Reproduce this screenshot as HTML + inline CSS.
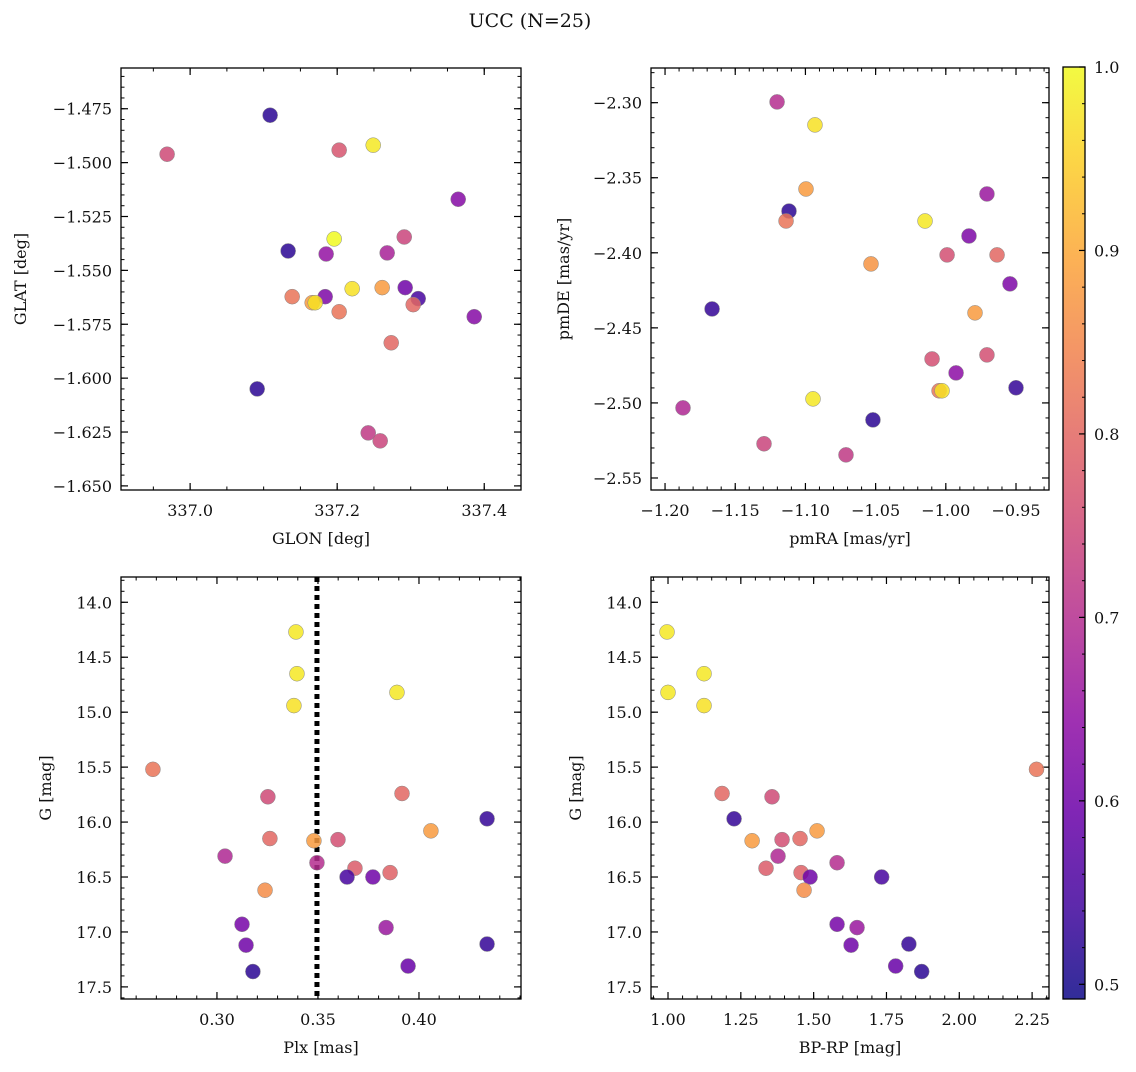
<!DOCTYPE html>
<html><head><meta charset="utf-8"><style>
body{margin:0;background:#fff}
svg text{font-family:"DejaVu Serif","Liberation Serif",serif;fill:#111}
</style></head><body>
<svg id="fig" width="1136" height="1067" viewBox="0 0 1136 1067" xmlns="http://www.w3.org/2000/svg">
<text x="530" y="27" font-size="19" text-anchor="middle">UCC (N=25)</text>
</svg>
<script>
// Panel 1: GLON / GLAT
const glon=[336.9687,337.1088,337.2027,337.2490,337.3646,337.1333,337.1959,337.1850,337.2912,337.2680,337.1388,337.1837,337.2204,337.2612,337.2925,337.3102,337.1660,337.1701,337.2027,337.3034,337.3864,337.2735,337.0912,337.2422,337.2585];
const glat=[-1.4961,-1.4780,-1.4942,-1.4919,-1.5170,-1.5410,-1.5354,-1.5424,-1.5345,-1.5419,-1.5622,-1.5622,-1.5585,-1.5580,-1.5580,-1.5631,-1.5650,-1.5650,-1.5692,-1.5659,-1.5715,-1.5836,-1.6050,-1.6254,-1.6291];
const col1=[0.75,0.52,0.77,0.98,0.63,0.52,1.0,0.65,0.74,0.68,0.82,0.62,0.97,0.88,0.60,0.55,0.88,0.97,0.82,0.80,0.63,0.80,0.52,0.72,0.74];
// Panel 2: pmRA / pmDE
const pmra=[-1.1202,-1.0932,-1.0996,-1.1117,-1.1138,-1.0148,-0.9707,-0.9835,-0.9991,-0.9635,-1.0533,-0.9543,-1.1665,-0.9792,-1.0098,-0.9707,-0.9927,-0.9500,-1.0048,-1.0027,-1.0946,-1.0519,-1.1872,-1.1295,-1.0711];
const pmde=[-2.2995,-2.3148,-2.3575,-2.3722,-2.3788,-2.3788,-2.3608,-2.3888,-2.4014,-2.4014,-2.4074,-2.4207,-2.4374,-2.4400,-2.4707,-2.4680,-2.4800,-2.4899,-2.4919,-2.4919,-2.4973,-2.5113,-2.5033,-2.5272,-2.5346];
const col2=[0.70,0.97,0.88,0.52,0.82,0.98,0.66,0.62,0.76,0.80,0.87,0.62,0.53,0.88,0.76,0.76,0.64,0.53,0.82,0.97,0.98,0.52,0.69,0.74,0.72];
// Panels 3 & 4: Plx, BP-RP, G
const plx=[0.3391,0.3396,0.3891,0.3381,0.2683,0.3916,0.3252,0.4337,0.4059,0.3262,0.3599,0.3480,0.3040,0.3495,0.3683,0.3857,0.3644,0.3772,0.3238,0.3124,0.3837,0.3144,0.4337,0.3946,0.3178];
const bprp=[0.9966,1.1237,1.0000,1.1237,2.2651,1.1856,1.3571,1.2268,1.5117,1.4533,1.3915,1.2887,1.3777,1.5804,1.3365,1.4568,1.7335,1.4877,1.4671,1.5804,1.6490,1.6285,1.8269,1.7816,1.8709];
const gmag=[14.27,14.65,14.82,14.94,15.52,15.74,15.77,15.97,16.08,16.15,16.16,16.17,16.31,16.37,16.42,16.46,16.50,16.50,16.62,16.93,16.96,17.12,17.11,17.31,17.36];
const col3=[0.98,0.98,0.98,0.97,0.82,0.80,0.75,0.53,0.88,0.80,0.76,0.88,0.69,0.70,0.78,0.79,0.55,0.60,0.86,0.61,0.66,0.60,0.53,0.59,0.52];
const plxLine=0.3495;
const cbTicks=[0.5,0.6,0.7,0.8,0.9,1.0];

const NS='http://www.w3.org/2000/svg';
const svg=document.getElementById('fig');
const VMIN=0.492,VMAX=1.0;
const stops=['#0d0887','#41049d','#6a00a8','#8f0da4','#b12a90','#cc4778','#e16462','#f2844b','#fca636','#fcce25','#f0f921'];
function hex(h){return [1,3,5].map(i=>parseInt(h.substr(i,2),16));}
function cmap(v){let t=(v-VMIN)/(VMAX-VMIN);t=Math.max(0,Math.min(1,t));const p=t*10,i=Math.min(9,Math.floor(p)),f=p-i;const a=hex(stops[i]),b=hex(stops[i+1]);return 'rgb('+a.map((c,k)=>Math.round(c+(b[k]-c)*f)).join(',')+')';}
function el(tag,attrs,parent){const e=document.createElementNS(NS,tag);for(const k in attrs)e.setAttribute(k,attrs[k]);(parent||svg).appendChild(e);return e;}
function fmt(v,d){return (v<0?'\u2212':'')+Math.abs(v).toFixed(d);}

function panel(o){
  const g=el('g',{});
  
  
  const sx=v=>o.x0+(v-o.xmin)/(o.xmax-o.xmin)*(o.x1-o.x0);
  const sy=v=>o.y0+(v-o.ymin)/(o.ymax-o.ymin)*(o.y1-o.y0);
  const eps=1e-9;
  for(let v=Math.ceil(Math.min(o.xmin,o.xmax)/o.xmn-eps)*o.xmn;v<=Math.max(o.xmin,o.xmax)+eps;v+=o.xmn){const x=sx(v);
    el('line',{x1:x,x2:x,y1:o.y1,y2:o.y1-3.5,stroke:'#000','stroke-width':1},g);el('line',{x1:x,x2:x,y1:o.y0,y2:o.y0+3.5,stroke:'#000','stroke-width':1},g);}
  for(let v=Math.ceil(Math.min(o.ymin,o.ymax)/o.ymn-eps)*o.ymn;v<=Math.max(o.ymin,o.ymax)+eps;v+=o.ymn){const y=sy(v);
    el('line',{x1:o.x0,x2:o.x0+3.5,y1:y,y2:y,stroke:'#000','stroke-width':1},g);el('line',{x1:o.x1,x2:o.x1-3.5,y1:y,y2:y,stroke:'#000','stroke-width':1},g);}
  o.xt.forEach(v=>{const x=sx(v);
    el('line',{x1:x,x2:x,y1:o.y1,y2:o.y1-7,stroke:'#000','stroke-width':1.2},g);el('line',{x1:x,x2:x,y1:o.y0,y2:o.y0+7,stroke:'#000','stroke-width':1.2},g);
    const t=el('text',{x:x,y:o.y1+26,'font-size':16,'text-anchor':'middle'},g);t.textContent=fmt(v,o.xd);
    
    });
  o.yt.forEach(v=>{const y=sy(v);
    el('line',{x1:o.x0,x2:o.x0+7,y1:y,y2:y,stroke:'#000','stroke-width':1.2},g);el('line',{x1:o.x1,x2:o.x1-7,y1:y,y2:y,stroke:'#000','stroke-width':1.2},g);
    const t=el('text',{x:o.x0-9,y:y+6,'font-size':16,'text-anchor':'end'},g);t.textContent=fmt(v,o.yd);
    
    });
  const xl=el('text',{x:(o.x0+o.x1)/2,y:o.y1+54,'font-size':16,'text-anchor':'middle'},g);xl.textContent=o.xlabel;
  
  
  const yx=o.x0-o.ylo,ym=(o.y0+o.y1)/2;
  const yl=el('text',{x:yx,y:ym,'font-size':16,'text-anchor':'middle',transform:'rotate(-90 '+yx+' '+ym+')'},g);yl.textContent=o.ylabel;
  
  
  if(o.vline!==undefined){const l=el('line',{x1:sx(o.vline),x2:sx(o.vline),y1:o.y0,y2:o.y1,stroke:'#000','stroke-width':5,'stroke-dasharray':'5,4'},g);
    
    }
  o.xs.forEach((v,i)=>{const c=el('circle',{cx:sx(v),cy:sy(o.ys[i]),r:7.5,fill:cmap(o.cs[i]),'fill-opacity':0.85,stroke:'#888','stroke-width':0.5},g);
    
    });
  el('rect',{x:o.x0,y:o.y0,width:o.x1-o.x0,height:o.y1-o.y0,fill:'none',stroke:'#000','stroke-width':1.3},g);
}
panel({name:'glon-glat-panel',x0:121,x1:521,y0:68,y1:490,xmin:336.906,xmax:337.450,ymin:-1.4561,ymax:-1.6519,xt:[337.0,337.2,337.4],xd:1,yt:[-1.475,-1.5,-1.525,-1.55,-1.575,-1.6,-1.625,-1.65],yd:3,xmn:0.05,ymn:0.005,xlabel:'GLON [deg]',ylabel:'GLAT [deg]',ylo:95,xs:glon,ys:glat,cs:col1});
panel({name:'pm-panel',x0:651,x1:1049,y0:68,y1:490,xmin:-1.21,xmax:-0.9265,ymin:-2.2769,ymax:-2.558,xt:[-1.2,-1.15,-1.1,-1.05,-1.0,-0.95],xd:2,yt:[-2.3,-2.35,-2.4,-2.45,-2.5,-2.55],yd:2,xmn:0.01,ymn:0.01,xlabel:'pmRA [mas/yr]',ylabel:'pmDE [mas/yr]',ylo:82,xs:pmra,ys:pmde,cs:col2});
panel({name:'plx-g-panel',x0:121,x1:521,y0:577,y1:999,xmin:0.2525,xmax:0.4505,ymin:13.77,ymax:17.61,xt:[0.30,0.35,0.40],xd:2,yt:[14.0,14.5,15.0,15.5,16.0,16.5,17.0,17.5],yd:1,xmn:0.01,ymn:0.1,xlabel:'Plx [mas]',ylabel:'G [mag]',ylo:70,xs:plx,ys:gmag,cs:col3,vline:plxLine});
panel({name:'cmd-panel',x0:651,x1:1049,y0:577,y1:999,xmin:0.9416,xmax:2.308,ymin:13.77,ymax:17.61,xt:[1.0,1.25,1.5,1.75,2.0,2.25],xd:2,yt:[14.0,14.5,15.0,15.5,16.0,16.5,17.0,17.5],yd:1,xmn:0.05,ymn:0.1,xlabel:'BP-RP [mag]',ylabel:'G [mag]',ylo:70,xs:bprp,ys:gmag,cs:col3});

// colorbar
const cb=el('g',{});


const defs=el('defs',{},cb);const lg=el('linearGradient',{id:'pl',x1:0,y1:1,x2:0,y2:0},defs);
stops.forEach((s,i)=>el('stop',{offset:(i*10)+'%','stop-color':s},lg));
const CB={x0:1063,x1:1085,y0:67,y1:999};
const cy=v=>CB.y1-(v-VMIN)/(VMAX-VMIN)*(CB.y1-CB.y0);
el('rect',{x:CB.x0,y:CB.y0,width:CB.x1-CB.x0,height:CB.y1-CB.y0,fill:'url(#pl)','fill-opacity':0.85},cb);
for(let v=0.5;v<=1.0001;v+=0.02){el('line',{x1:CB.x1,x2:CB.x1-3,y1:cy(v),y2:cy(v),stroke:'#000','stroke-width':1},cb);}
cbTicks.forEach(v=>{el('line',{x1:CB.x1,x2:CB.x1-6,y1:cy(v),y2:cy(v),stroke:'#000','stroke-width':1.2},cb);
  const t=el('text',{x:CB.x1+9,y:cy(v)+6,'font-size':16},cb);t.textContent=v.toFixed(1);
  
  });
el('rect',{x:CB.x0,y:CB.y0,width:CB.x1-CB.x0,height:CB.y1-CB.y0,fill:'none',stroke:'#000','stroke-width':1.3},cb);
</script>
</body></html>
